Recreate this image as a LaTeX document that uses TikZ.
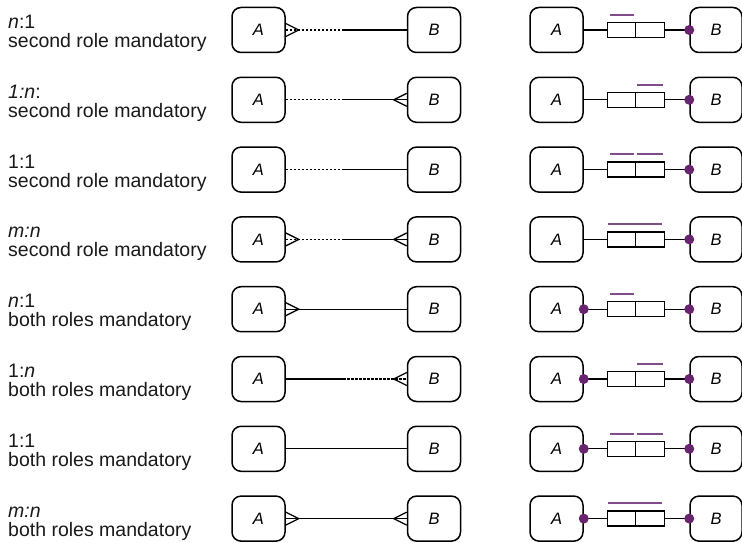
\documentclass[tikz,border=0pt]{standalone}
\usepackage{fontspec}
\setmainfont{Liberation Sans}
\definecolor{dotc}{RGB}{104,36,110}
\definecolor{barc}{RGB}{128,76,138}
\begin{document}
\begin{tikzpicture}[x=1pt,y=-1pt,
 ent/.style={draw, line width=1.5pt, rounded corners=9pt, minimum width=53pt, minimum height=45pt, inner sep=0pt, font=\fontsize{16.5}{16.5}\selectfont\itshape},
 conn/.style={line width=1.3pt},
 dsh/.style={dash pattern=on 2.5pt off 1.5pt},
 cell/.style={draw, line width=1.3pt, minimum width=28.5pt, minimum height=15pt, inner sep=0pt},
 lbl/.style={anchor=base west, inner sep=0pt, font=\fontsize{19.5}{19.5}\selectfont, text=black!90},
 roledot/.style={fill=dotc},
 rolebar/.style={draw=barc, line width=2pt}]
\useasboundingbox (0,0) rectangle (742,543);
\foreach \i/\la/\lb/\sa/\sb/\fa/\fb/\da/\br in {
 0/{\textit{n}:1}/{second role mandatory}/dsh/solid/1/0/0/1,
 1/{\textit{1:n}:}/{second role mandatory}/dsh/solid/0/1/0/2,
 2/{1:1}/{second role mandatory}/dsh/solid/0/0/0/3,
 3/{\textit{m:n}}/{second role mandatory}/dsh/solid/1/1/0/4,
 4/{\textit{n}:1}/{both roles mandatory}/solid/solid/1/0/1/1,
 5/{1:\textit{n}}/{both roles mandatory}/solid/dsh/0/1/1/2,
 6/{1:1}/{both roles mandatory}/solid/solid/0/0/1/3,
 7/{\textit{m:n}}/{both roles mandatory}/solid/solid/1/1/1/4}{
  \pgfmathsetmacro\yy{30+69.8*\i}
  \node[lbl] (t\i) at (8,\yy-1.5) {\la};
  \node[lbl] (u\i) at (8,\yy+17.5) {\lb};
  % left column
  \node[ent] (a\i) at (258.5,\yy) {A};
  \node[ent] (b\i) at (434,\yy) {B};
  \coordinate (m\i) at (343,\yy);
  \draw[conn,\sa] (a\i.east) -- (m\i);
  \draw[conn,\sb] (m\i) -- (b\i.west);
  \ifnum\fa=1 \draw[conn] ([yshift=6.5pt]a\i.east) -- ([xshift=13pt]a\i.east) -- ([yshift=-6.5pt]a\i.east); \fi
  \ifnum\fb=1 \draw[conn] ([yshift=6.5pt]b\i.west) -- ([xshift=-13pt]b\i.west) -- ([yshift=-6.5pt]b\i.west); \fi
  % right column
  \node[ent] (c\i) at (556.5,\yy) {A};
  \node[ent, minimum width=52pt] (d\i) at (716,\yy) {B};
  \node[cell] (p\i) at (621.5,\yy) {};
  \node[cell] (q\i) at (650,\yy) {};
  \draw[conn] (c\i.east) -- (p\i.west);
  \draw[conn] (q\i.east) -- (d\i.west);
  \ifnum\da=1 \fill[roledot] (c\i.east) circle (5pt); \fi
  \fill[roledot] (d\i.west) circle (5pt);
  \ifcase\br
  \or \draw[rolebar] ([xshift=3pt,yshift=7pt]p\i.north west) -- ([xshift=-2pt,yshift=7pt]p\i.north east);
  \or \draw[rolebar] ([xshift=2pt,yshift=7pt]q\i.north west) -- ([xshift=-2pt,yshift=7pt]q\i.north east);
  \or \draw[rolebar] ([xshift=3pt,yshift=7pt]p\i.north west) -- ([xshift=-2pt,yshift=7pt]p\i.north east);
      \draw[rolebar] ([xshift=2pt,yshift=7pt]q\i.north west) -- ([xshift=-2pt,yshift=7pt]q\i.north east);
  \or \draw[rolebar] ([xshift=1pt,yshift=7pt]p\i.north west) -- ([xshift=-3pt,yshift=7pt]q\i.north east);
  \fi
}
\end{tikzpicture}
\end{document}
